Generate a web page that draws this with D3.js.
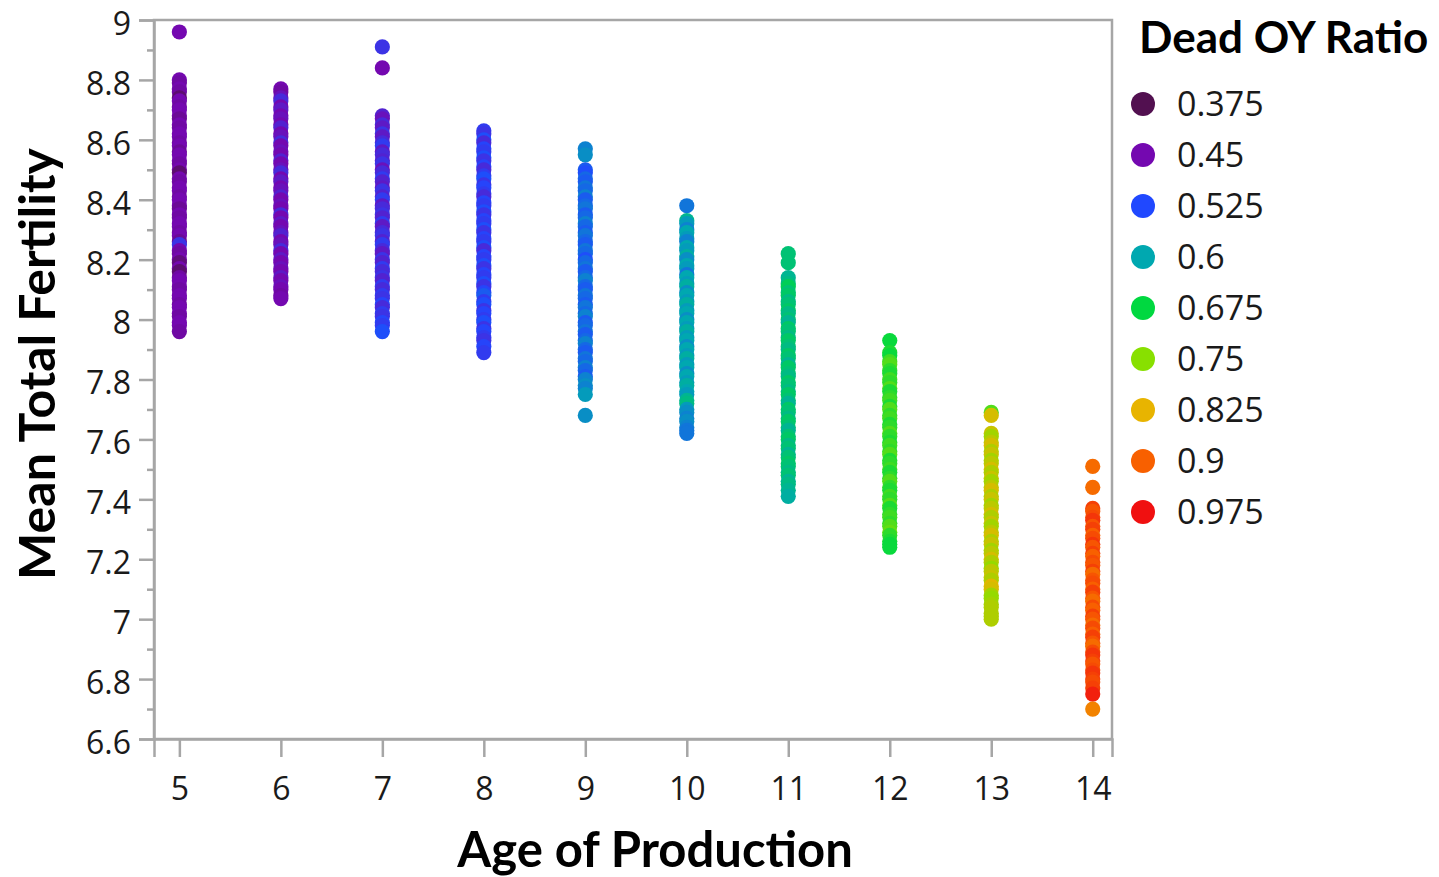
<!DOCTYPE html>
<html>
<head>
<meta charset="utf-8">
<script src="https://cdn.jsdelivr.net/npm/d3@7"></script>
<style>
  body { margin: 0; background: #fff; }
  svg { display: block; }
  .tick text { font-family: "Open Sans", sans-serif; fill: #1a1a1a; }
  .title { font-family: Lato, "Open Sans", sans-serif; font-weight: bold; fill: #000; }
</style>
</head>
<body>
<div id="chart"></div>
<script>
// data: [mean total fertility, dead OY ratio] for each age of production
const age5 = [[8.96,.45],[8.80,.45],[8.79,.44],[8.77,.45],[8.76,.44],[8.74,.40],[8.73,.45],[8.71,.44],[8.70,.45],[8.68,.45],[8.67,.43],[8.65,.45],[8.64,.44],[8.62,.45],[8.61,.45],[8.59,.44],[8.58,.45],[8.56,.43],[8.55,.45],[8.53,.45],[8.52,.44],[8.50,.45],[8.49,.40],[8.47,.45],[8.46,.44],[8.44,.45],[8.43,.45],[8.41,.44],[8.40,.45],[8.38,.45],[8.37,.43],[8.35,.45],[8.34,.44],[8.32,.45],[8.31,.45],[8.29,.44],[8.28,.45],[8.26,.43],[8.25,.50],[8.23,.45],[8.22,.44],[8.20,.45],[8.19,.41],[8.17,.45],[8.16,.40],[8.14,.44],[8.13,.45],[8.11,.45],[8.10,.44],[8.08,.45],[8.07,.45],[8.05,.44],[8.04,.45],[8.02,.45],[8.01,.44],[7.99,.45],[7.98,.45],[7.96,.44]];
const age6 = [[8.77,.45],[8.76,.44],[8.74,.46],[8.73,.49],[8.71,.45],[8.70,.47],[8.68,.45],[8.67,.46],[8.65,.45],[8.64,.48],[8.62,.45],[8.61,.46],[8.59,.49],[8.58,.45],[8.56,.46],[8.55,.45],[8.53,.48],[8.52,.45],[8.50,.46],[8.49,.49],[8.47,.45],[8.46,.47],[8.44,.45],[8.43,.46],[8.41,.48],[8.40,.45],[8.38,.46],[8.37,.45],[8.35,.49],[8.34,.45],[8.32,.47],[8.31,.45],[8.29,.46],[8.28,.48],[8.26,.45],[8.25,.46],[8.23,.49],[8.22,.45],[8.20,.47],[8.19,.45],[8.17,.46],[8.16,.45],[8.14,.47],[8.13,.45],[8.11,.46],[8.10,.45],[8.08,.44],[8.07,.45]];
const age7 = [[8.91,.50],[8.84,.45],[8.68,.48],[8.67,.46],[8.65,.49],[8.64,.47],[8.62,.50],[8.61,.47],[8.59,.49],[8.58,.51],[8.56,.47],[8.55,.49],[8.53,.48],[8.52,.50],[8.50,.46],[8.49,.49],[8.47,.51],[8.46,.48],[8.44,.47],[8.43,.50],[8.41,.48],[8.40,.51],[8.38,.47],[8.37,.49],[8.35,.50],[8.34,.48],[8.32,.51],[8.31,.47],[8.29,.49],[8.28,.50],[8.26,.48],[8.25,.51],[8.23,.49],[8.22,.47],[8.20,.50],[8.19,.48],[8.17,.51],[8.16,.49],[8.14,.50],[8.13,.48],[8.11,.51],[8.10,.49],[8.08,.51],[8.07,.50],[8.05,.52],[8.04,.49],[8.02,.51],[8.01,.50],[7.99,.52],[7.98,.51],[7.96,.53]];
const age8 = [[8.63,.51],[8.62,.50],[8.60,.53],[8.59,.49],[8.57,.52],[8.56,.51],[8.54,.53],[8.53,.50],[8.51,.52],[8.50,.49],[8.48,.51],[8.47,.53],[8.45,.50],[8.44,.52],[8.42,.51],[8.41,.49],[8.39,.52],[8.38,.51],[8.36,.53],[8.35,.50],[8.33,.52],[8.32,.51],[8.30,.53],[8.29,.50],[8.27,.52],[8.26,.51],[8.24,.53],[8.23,.49],[8.21,.52],[8.20,.51],[8.18,.53],[8.17,.50],[8.15,.52],[8.14,.51],[8.12,.53],[8.11,.50],[8.09,.52],[8.08,.54],[8.06,.51],[8.05,.53],[8.03,.50],[8.02,.52],[8.00,.51],[7.99,.53],[7.97,.50],[7.96,.52],[7.94,.51],[7.93,.50],[7.91,.52],[7.89,.51]];
const age9 = [[8.57,.57],[8.55,.58],[8.50,.54],[8.49,.53],[8.47,.55],[8.46,.54],[8.44,.56],[8.43,.55],[8.41,.57],[8.40,.54],[8.38,.55],[8.37,.56],[8.35,.54],[8.34,.55],[8.32,.57],[8.31,.55],[8.29,.54],[8.28,.56],[8.26,.55],[8.25,.54],[8.23,.56],[8.22,.55],[8.20,.53],[8.19,.55],[8.17,.56],[8.16,.54],[8.14,.55],[8.13,.57],[8.11,.55],[8.10,.54],[8.08,.56],[8.07,.55],[8.05,.54],[8.04,.56],[8.02,.55],[8.01,.57],[7.99,.54],[7.98,.55],[7.96,.56],[7.95,.54],[7.93,.55],[7.92,.57],[7.90,.55],[7.89,.54],[7.87,.56],[7.86,.55],[7.84,.57],[7.83,.55],[7.81,.54],[7.80,.57],[7.78,.58],[7.77,.57],[7.75,.59],[7.68,.58]];
const age10 = [[8.38,.56],[8.33,.62],[8.32,.59],[8.30,.57],[8.29,.60],[8.27,.59],[8.26,.57],[8.24,.60],[8.23,.59],[8.21,.61],[8.20,.58],[8.18,.60],[8.17,.59],[8.15,.56],[8.14,.60],[8.12,.59],[8.11,.61],[8.09,.58],[8.08,.60],[8.06,.59],[8.05,.61],[8.03,.59],[8.02,.60],[8.00,.58],[7.99,.60],[7.97,.59],[7.96,.61],[7.94,.59],[7.93,.60],[7.91,.58],[7.90,.60],[7.88,.59],[7.87,.61],[7.85,.59],[7.84,.60],[7.82,.58],[7.81,.60],[7.79,.59],[7.78,.61],[7.76,.60],[7.75,.59],[7.73,.62],[7.72,.63],[7.70,.59],[7.69,.58],[7.67,.57],[7.66,.58],[7.64,.57],[7.63,.56],[7.62,.56]];
const age11 = [[8.22,.64],[8.19,.64],[8.14,.62],[8.12,.63],[8.11,.66],[8.09,.64],[8.08,.65],[8.06,.63],[8.05,.64],[8.03,.65],[8.02,.63],[8.00,.64],[7.99,.62],[7.97,.65],[7.96,.64],[7.94,.63],[7.93,.65],[7.91,.64],[7.90,.63],[7.88,.65],[7.87,.64],[7.85,.62],[7.84,.65],[7.82,.64],[7.81,.63],[7.79,.65],[7.78,.64],[7.76,.63],[7.75,.65],[7.73,.64],[7.72,.62],[7.70,.65],[7.69,.64],[7.67,.63],[7.66,.65],[7.64,.64],[7.63,.62],[7.61,.64],[7.60,.65],[7.58,.63],[7.57,.64],[7.55,.62],[7.54,.64],[7.52,.65],[7.51,.64],[7.49,.63],[7.48,.64],[7.46,.62],[7.45,.63],[7.43,.62],[7.41,.61]];
const age12 = [[7.93,.68],[7.89,.69],[7.88,.68],[7.86,.71],[7.85,.72],[7.83,.70],[7.82,.69],[7.80,.71],[7.79,.70],[7.77,.72],[7.76,.69],[7.74,.70],[7.73,.71],[7.71,.69],[7.70,.72],[7.68,.70],[7.67,.71],[7.65,.69],[7.64,.70],[7.62,.72],[7.61,.70],[7.59,.69],[7.58,.71],[7.56,.70],[7.55,.72],[7.53,.69],[7.52,.70],[7.50,.71],[7.49,.69],[7.47,.70],[7.46,.72],[7.44,.70],[7.43,.69],[7.41,.71],[7.40,.70],[7.38,.72],[7.37,.69],[7.35,.70],[7.34,.71],[7.32,.70],[7.31,.72],[7.29,.73],[7.28,.70],[7.26,.69],[7.25,.68],[7.24,.68]];
const age13 = [[7.69,.72],[7.68,.81],[7.62,.80],[7.61,.77],[7.59,.79],[7.58,.81],[7.56,.78],[7.55,.80],[7.53,.77],[7.52,.79],[7.50,.81],[7.49,.78],[7.47,.80],[7.46,.77],[7.44,.79],[7.43,.81],[7.41,.78],[7.40,.80],[7.38,.77],[7.37,.79],[7.35,.81],[7.34,.78],[7.32,.80],[7.31,.77],[7.29,.79],[7.28,.81],[7.26,.78],[7.25,.80],[7.23,.77],[7.22,.79],[7.20,.81],[7.19,.78],[7.17,.76],[7.16,.79],[7.14,.80],[7.13,.78],[7.11,.82],[7.10,.81],[7.08,.77],[7.07,.76],[7.05,.77],[7.04,.78],[7.02,.78],[7.01,.78],[7.00,.78]];
const age14 = [[7.51,.89],[7.44,.89],[7.37,.93],[7.36,.91],[7.34,.92],[7.33,.94],[7.31,.91],[7.30,.93],[7.28,.90],[7.27,.92],[7.25,.94],[7.24,.91],[7.22,.93],[7.21,.90],[7.19,.92],[7.18,.91],[7.16,.93],[7.15,.89],[7.13,.91],[7.12,.92],[7.10,.90],[7.09,.93],[7.07,.91],[7.06,.89],[7.04,.92],[7.03,.90],[7.01,.93],[7.00,.91],[6.98,.89],[6.97,.92],[6.95,.90],[6.94,.93],[6.92,.91],[6.91,.89],[6.89,.92],[6.88,.94],[6.86,.93],[6.85,.91],[6.83,.92],[6.82,.94],[6.80,.93],[6.79,.92],[6.77,.93],[6.75,.96],[6.70,.87]];

const ages = [5, 6, 7, 8, 9, 10, 11, 12, 13, 14];
const columns = [age5, age6, age7, age8, age9, age10, age11, age12, age13, age14];

// axis ticks
const yTicks = [6.6, 6.8, 7, 7.2, 7.4, 7.6, 7.8, 8, 8.2, 8.4, 8.6, 8.8, 9];
const yTickLabels = ["6.6", "6.8", "7", "7.2", "7.4", "7.6", "7.8", "8", "8.2", "8.4", "8.6", "8.8", "9"];
const yMinorTicks = [6.7, 6.9, 7.1, 7.3, 7.5, 7.7, 7.9, 8.1, 8.3, 8.5, 8.7, 8.9];

// legend
const legendRatios = [0.375, 0.45, 0.525, 0.6, 0.675, 0.75, 0.825, 0.9, 0.975];
const legendLabels = ["0.375", "0.45", "0.525", "0.6", "0.675", "0.75", "0.825", "0.9", "0.975"];
const legendColors = ["#521050", "#7408b0", "#2048ff", "#00a8b0", "#00d840", "#88e000", "#e8b400", "#f86000", "#f01010"];

const W = 1439, H = 877;
const plot = { left: 154, right: 1112, top: 20, bottom: 739 };

const svg = d3.select("#chart").append("svg")
  .attr("width", W)
  .attr("height", H);

const x = d3.scaleLinear().domain([4.75, 14.19]).range([plot.left, plot.right]);
const y = d3.scaleLinear().domain([6.6, 9]).range([plot.bottom, plot.top]);
const color = d3.scaleLinear().domain(legendRatios).range(legendColors).clamp(true);

// points
const points = [];
columns.forEach((col, i) => col.forEach(d => points.push({ age: ages[i], fert: d[0], ratio: d[1] })));

svg.append("g")
  .selectAll("circle")
  .data(points)
  .join("circle")
  .attr("cx", d => x(d.age))
  .attr("cy", d => y(d.fert))
  .attr("r", 7.6)
  .attr("fill", d => color(d.ratio));

// frame
svg.append("rect")
  .attr("x", plot.left)
  .attr("y", plot.top)
  .attr("width", plot.right - plot.left)
  .attr("height", plot.bottom - plot.top)
  .attr("fill", "none")
  .attr("stroke", "#a6a6a6")
  .attr("stroke-width", 2.5);

// y axis
const yAxis = svg.append("g")
  .attr("transform", `translate(${plot.left},0)`)
  .call(d3.axisLeft(y).tickValues(yTicks).tickSize(15).tickPadding(8)
    .tickFormat((d, i) => yTickLabels[i]));
svg.append("g")
  .attr("transform", `translate(${plot.left},0)`)
  .call(d3.axisLeft(y).tickValues(yMinorTicks).tickSize(7).tickFormat(""))
  .call(g => g.select(".domain").remove());

// x axis
const xAxis = svg.append("g")
  .attr("transform", `translate(0,${plot.bottom})`)
  .call(d3.axisBottom(x).tickValues(ages).tickSize(18).tickFormat(d => d));

svg.selectAll(".domain").attr("stroke", "#a6a6a6").attr("stroke-width", 2.5);
svg.selectAll(".tick line").attr("stroke", "#a6a6a6").attr("stroke-width", 2.5);
yAxis.selectAll("text").attr("font-size", 32).attr("dy", "0.45em");
xAxis.selectAll("text").attr("font-size", 32).attr("y", 0).attr("dy", 61);

// titles
svg.append("text")
  .attr("class", "title")
  .attr("x", 655)
  .attr("y", 867)
  .attr("text-anchor", "middle")
  .attr("font-size", 49)
  .text("Age of Production");

svg.append("text")
  .attr("class", "title")
  .attr("transform", "translate(55,364) rotate(-90)")
  .attr("text-anchor", "middle")
  .attr("font-size", 50)
  .text("Mean Total Fertility");

// legend
const legend = svg.append("g");
legend.append("text")
  .attr("class", "title")
  .attr("x", 1139)
  .attr("y", 53)
  .attr("font-size", 44)
  .text("Dead OY Ratio");

const item = legend.selectAll("g.item")
  .data(legendRatios)
  .join("g")
  .attr("class", "item")
  .attr("transform", (d, i) => `translate(1143,${104 + i * 51})`);
item.append("circle")
  .attr("r", 12)
  .attr("fill", d => color(d));
item.append("text")
  .attr("x", 34)
  .attr("dy", "0.36em")
  .attr("font-family", "'Open Sans', sans-serif")
  .attr("font-size", 34)
  .attr("fill", "#1a1a1a")
  .text((d, i) => legendLabels[i]);
</script>
</body>
</html>
